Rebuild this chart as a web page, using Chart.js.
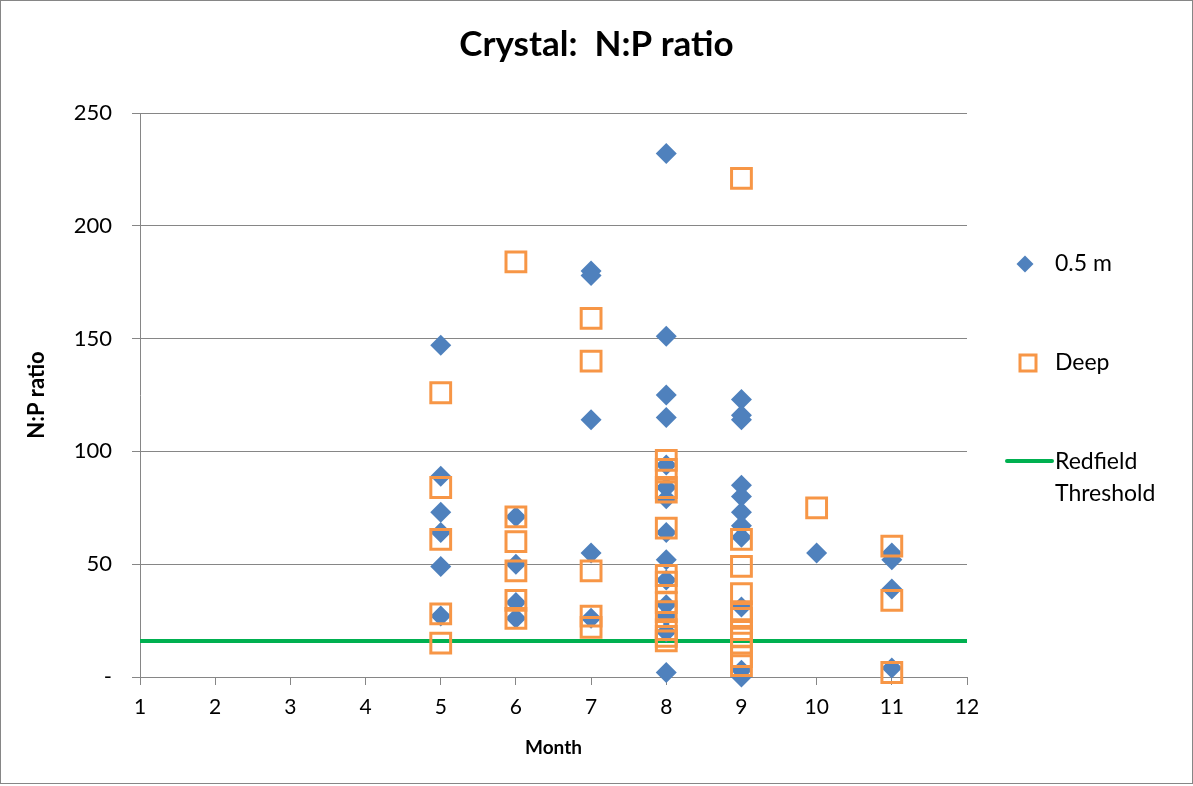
<!DOCTYPE html>
<html>
<head>
<meta charset="utf-8">
<script src="https://cdn.jsdelivr.net/npm/chart.js@4.4.1/dist/chart.umd.min.js"></script>
<style>
  html, body { margin: 0; padding: 0; background: #fff; }
  #wrap { width: 1193px; height: 786px; position: relative; }
</style>
</head>
<body>
<div id="wrap"><canvas id="grafico"></canvas></div>
<script>
// Dados: mês e razão N:P de cada amostra
var meses_raso = [5, 5, 5, 5, 5, 5,
  6, 6, 6, 6,
  7, 7, 7, 7, 7,
  8, 8, 8, 8, 8, 8, 8, 8, 8, 8, 8, 8, 8, 8,
  9, 9, 9, 9, 9, 9, 9, 9, 9, 9, 9,
  10,
  11, 11, 11, 11];
var np_raso = [147, 89, 73, 64, 49, 27,
  71, 50, 33, 26,
  180, 178, 114, 55, 26,
  232, 151, 125, 115, 94, 84, 79, 64, 52, 43, 32, 27, 20, 2,
  123, 116, 114, 85, 80, 73, 67, 62, 31, 3, 0,
  55,
  55, 52, 39, 4];

var meses_fundo = [5, 5, 5, 5, 5,
  6, 6, 6, 6, 6, 6,
  7, 7, 7, 7, 7,
  8, 8, 8, 8, 8, 8, 8, 8, 8, 8, 8, 8,
  9, 9, 9, 9, 9, 9, 9, 9, 9, 9, 9,
  10,
  11, 11, 11];
var np_fundo = [126, 84, 61, 28, 15,
  184, 71, 60, 47, 34, 26,
  159, 140, 47, 27, 22,
  96, 92, 84, 82, 66, 45, 42, 33, 29, 21, 18, 16,
  221, 61, 49, 37, 29, 26, 21, 18, 15, 9, 5,
  75,
  58, 34, 2];

var redfield_meses = [1, 12];
var redfield_valor = 16;

var ticks_x = [1, 2, 3, 4, 5, 6, 7, 8, 9, 10, 11, 12];
var ticks_y = [0, 50, 100, 150, 200, 250];

var azul = '#4F81BD';
var laranja = '#F79646';
var verde = '#00B050';
var cinza = '#868686';
var fonte = 'Lato, "Open Sans", sans-serif';

function pontos(xs, ys) {
  var lista = [];
  for (var i = 0; i < xs.length; i++) {
    lista.push({ x: xs[i], y: ys[i] });
  }
  return lista;
}

// Legenda desenhada à mão (Excel coloca os itens bem espaçados à direita)
var legendaPlugin = {
  id: 'legenda',
  beforeDraw: function (chart) {
    var ctx = chart.ctx;
    ctx.save();
    ctx.fillStyle = '#fff';
    ctx.fillRect(0, 0, chart.width, chart.height);
    ctx.strokeStyle = cinza;
    ctx.lineWidth = 1;
    ctx.strokeRect(0.5, 0.5, chart.width - 1, chart.height - 3);
    ctx.restore();
  },
  afterDraw: function (chart) {
    var ctx = chart.ctx;
    var area = chart.chartArea;
    var x0 = area.right;
    var y0 = area.top;
    ctx.save();
    // diamante
    var cx = x0 + 58, cy = y0 + 151;
    ctx.fillStyle = azul;
    ctx.beginPath();
    ctx.moveTo(cx, cy - 8.5);
    ctx.lineTo(cx + 8.5, cy);
    ctx.lineTo(cx, cy + 8.5);
    ctx.lineTo(cx - 8.5, cy);
    ctx.closePath();
    ctx.fill();
    // quadrado
    ctx.strokeStyle = laranja;
    ctx.lineWidth = 3;
    ctx.strokeRect(x0 + 53, y0 + 242, 16, 16);
    // linha
    ctx.strokeStyle = verde;
    ctx.lineWidth = 4;
    ctx.lineCap = 'round';
    ctx.beginPath();
    ctx.moveTo(x0 + 40, y0 + 348);
    ctx.lineTo(x0 + 85, y0 + 348);
    ctx.stroke();
    // textos
    ctx.fillStyle = '#000';
    ctx.font = '23px ' + fonte;
    ctx.textBaseline = 'middle';
    ctx.textAlign = 'left';
    ctx.fillText('0.5 m', x0 + 88, y0 + 151);
    ctx.fillText('Deep', x0 + 88, y0 + 250);
    ctx.fillText('Redfield', x0 + 88, y0 + 349);
    ctx.fillText('Threshold', x0 + 88, y0 + 381);
    ctx.restore();
  }
};

new Chart(document.getElementById('grafico'), {
  type: 'scatter',
  data: {
    datasets: [
      {
        label: 'Redfield Threshold',
        type: 'line',
        data: pontos(redfield_meses, [redfield_valor, redfield_valor]),
        borderColor: verde,
        borderWidth: 4,
        pointRadius: 0,
        fill: false,
        order: 3
      },
      {
        label: '0.5 m',
        data: pontos(meses_raso, np_raso),
        pointStyle: 'rectRot',
        pointRadius: 10.5,
        backgroundColor: azul,
        borderColor: azul,
        borderWidth: 0,
        clip: false,
        order: 2
      },
      {
        label: 'Deep',
        data: pontos(meses_fundo, np_fundo),
        pointStyle: 'rect',
        pointRadius: 14,
        backgroundColor: 'rgba(0,0,0,0)',
        borderColor: laranja,
        borderWidth: 3,
        clip: false,
        order: 1
      }
    ]
  },
  options: {
    responsive: true,
    maintainAspectRatio: false,
    animation: false,
    layout: { padding: 0 },
    plugins: {
      legend: { display: false },
      tooltip: { enabled: false },
      title: {
        display: true,
        text: 'Crystal:  N:P ratio',
        color: '#000',
        font: { family: fonte, size: 35, weight: 'bold' },
        padding: { top: 24, bottom: 47 }
      }
    },
    scales: {
      x: {
        type: 'linear',
        min: 1,
        max: 12,
        afterBuildTicks: function (s) { s.ticks = ticks_x.map(function (v) { return { value: v }; }); },
        ticks: { color: '#000', font: { family: fonte, size: 21 }, padding: 10 },
        grid: { drawOnChartArea: false, drawTicks: true, tickLength: 8, color: cinza },
        border: { color: cinza, width: 1 },
        title: {
          display: true, text: 'Month', color: '#000',
          font: { family: fonte, size: 19, weight: 'bold' },
          padding: { top: 0, bottom: 27 }
        },
        afterFit: function (s) { s.height = 109; }
      },
      y: {
        type: 'linear',
        min: 0,
        max: 250,
        afterBuildTicks: function (s) { s.ticks = ticks_y.map(function (v) { return { value: v }; }); },
        ticks: {
          color: '#000', font: { family: fonte, size: 22 }, padding: 20,
          callback: function (v) { return v === 0 ? '-' : v; }
        },
        grid: { color: cinza, lineWidth: 1, tickLength: 8 },
        border: { color: cinza, width: 1 },
        title: {
          display: true, text: 'N:P ratio', color: '#000',
          font: { family: fonte, size: 22, weight: 'bold' },
          padding: { top: 24, bottom: 0 }
        },
        afterFit: function (s) { s.width = 140; }
      },
      y2: {
        type: 'linear',
        position: 'right',
        display: true,
        grid: { display: false },
        ticks: { display: false },
        border: { display: false },
        afterFit: function (s) { s.width = 226; }
      }
    }
  },
  plugins: [legendaPlugin]
});
</script>
</body>
</html>
